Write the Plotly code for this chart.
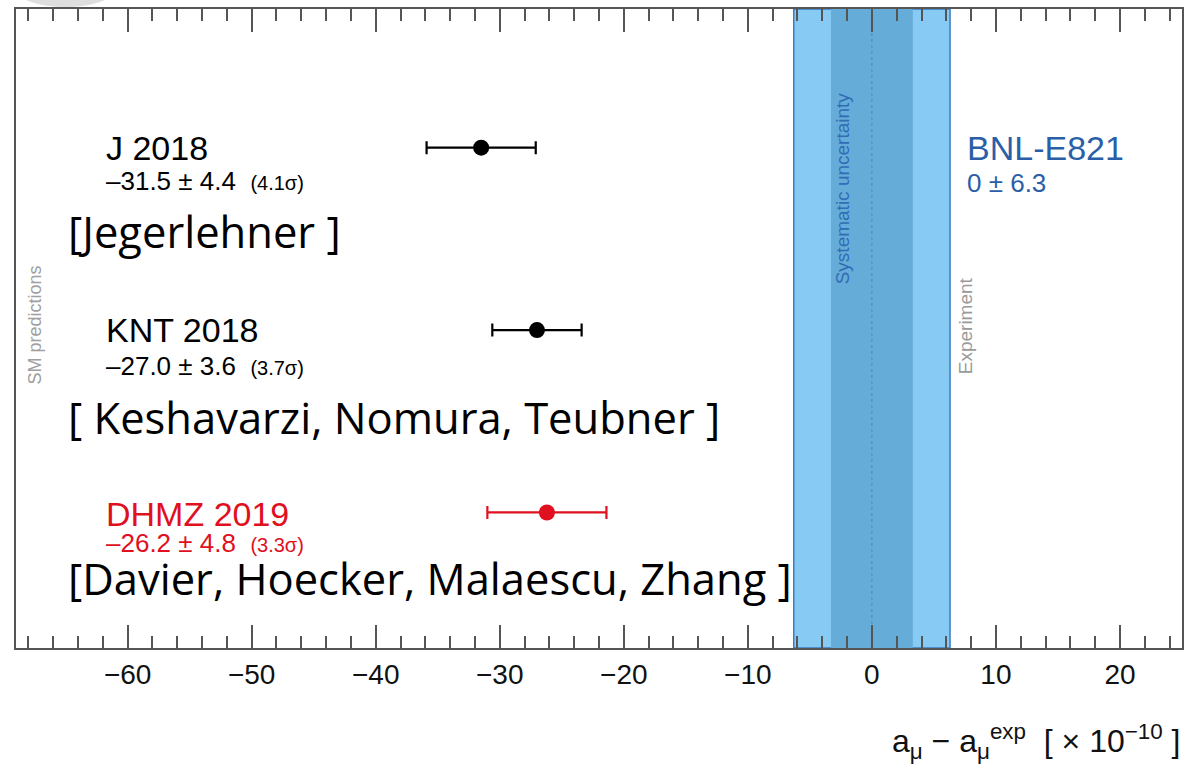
import plotly.graph_objects as go

# Standard Model predictions of a_mu relative to the BNL-E821 measurement (units of 1e-10)
labels = ["J 2018", "KNT 2018", "DHMZ 2019"]
values = [-31.5, -27.0, -26.2]
errors = [4.4, 3.6, 4.8]
sigmas = ["4.1σ", "3.7σ", "3.3σ"]
authors = ["[Jegerlehner ]", "[ Keshavarzi, Nomura, Teubner ]", "[Davier, Hoecker, Malaescu, Zhang ]"]
colors = ["#000000", "#000000", "#e0101e"]
rows = [3, 2, 1]

# Experimental reference band
exp_name = "BNL-E821"
exp_value = 0.0
exp_total = 6.3
exp_sys = 3.3

x_ticks = [-60, -50, -40, -30, -20, -10, 0, 10, 20]

HELV = "Liberation Sans, Arial, Helvetica, sans-serif"
SLIDE = "Open Sans, sans-serif"
AXIS = "#555555"

fig = go.Figure()

for lab, v, e, c, r in zip(labels, values, errors, colors, rows):
    fig.add_trace(go.Scatter(
        x=[v], y=[r], mode="markers",
        marker=dict(size=16, color=c),
        error_x=dict(type="data", array=[e], symmetric=True, color=c, thickness=2.2, width=6.5),
        showlegend=False, hoverinfo="skip", name=lab,
    ))

# bands of the measurement
fig.add_shape(type="rect", xref="x", yref="paper", x0=exp_value - exp_total, x1=exp_value + exp_total,
              y0=0, y1=1, fillcolor="#87cbf5", line=dict(color="#3d7cc2", width=1.5), layer="below")
fig.add_shape(type="rect", xref="x", yref="paper", x0=exp_value - exp_sys, x1=exp_value + exp_sys,
              y0=0, y1=1, fillcolor="#66acd8", line=dict(width=0), layer="below")
fig.add_shape(type="line", xref="x", yref="paper", x0=exp_value, x1=exp_value, y0=0, y1=1,
              line=dict(color="#4f8bc9", width=1.2, dash="dot"), layer="below")

# faint shadow at the top-left corner of the page
fig.add_shape(type="circle", xref="paper", yref="paper", x0=0.0, x1=0.085, y0=1.003, y1=1.06,
              fillcolor="rgba(190,190,190,0.5)", line=dict(width=0), layer="above")

title_shift = [0, 0, -2]
value_shift = [-33, -36, -31]
author_shift = [-84, -87, -66]

for i, r in enumerate(rows):
    c = colors[i]
    fig.add_annotation(x=-61.9, y=r, xref="x", yref="y", xanchor="left", yanchor="middle",
                       yshift=title_shift[i], showarrow=False, text=labels[i],
                       font=dict(family=HELV, size=34, color=c))
    sign = "–" if values[i] < 0 else ""
    fig.add_annotation(x=-61.9, y=r, xref="x", yref="y", xanchor="left", yanchor="middle",
                       yshift=value_shift[i], showarrow=False,
                       text=f"{sign}{abs(values[i]):.1f} ± {errors[i]:.1f}  <span style='font-size:20px'>({sigmas[i]})</span>",
                       font=dict(family=HELV, size=26, color=c))
    fig.add_annotation(x=-65.0, y=r, xref="x", yref="y", xanchor="left", yanchor="middle",
                       yshift=author_shift[i], showarrow=False, text=authors[i],
                       font=dict(family=SLIDE, size=43.5, color="#000000"))

fig.add_annotation(x=7.5, y=rows[0], xref="x", yref="y", xanchor="left", yanchor="middle",
                   yshift=0, showarrow=False, text=exp_name,
                   font=dict(family=HELV, size=34, color="#2a5fa8"))
fig.add_annotation(x=7.5, y=rows[0], xref="x", yref="y", xanchor="left", yanchor="middle",
                   yshift=-35, showarrow=False, text=f"{exp_value:.0f} ± {exp_total:.1f}",
                   font=dict(family=HELV, size=26, color="#2a5fa8"))

fig.add_annotation(x=-2.35, y=0.719, xref="x", yref="paper", xanchor="center", yanchor="middle",
                   textangle=-90, showarrow=False,
                   text="Systematic uncertainty", font=dict(family=HELV, size=19, color="#2f6db5"))
fig.add_annotation(x=7.5, y=0.505, xref="x", yref="paper", xanchor="center", yanchor="middle",
                   textangle=-90, showarrow=False,
                   text="Experiment", font=dict(family=HELV, size=19, color="#9a9a9a"))
fig.add_annotation(x=0.0165, y=0.505, xref="paper", yref="paper", xanchor="center", yanchor="middle",
                   textangle=-90, showarrow=False,
                   text="SM predictions", font=dict(family=HELV, size=18, color="#a0a0a0"))

fig.add_annotation(x=1.0, y=-0.146, xref="paper", yref="paper", xanchor="right", yanchor="middle",
                   showarrow=False,
                   text="a<sub>μ</sub> − a<sub>μ</sub><sup>exp</sup>  [ × 10<sup>−10</sup> ]",
                   font=dict(family=HELV, size=32, color="#111111"))

fig.update_xaxes(range=[-69, 25], tickvals=x_ticks, ticktext=[f"−{abs(t)}" if t < 0 else str(t) for t in x_ticks],
                 ticks="inside", ticklen=23, tickwidth=2, tickcolor=AXIS,
                 minor=dict(dtick=2, tick0=0, ticks="inside", ticklen=12, tickwidth=2, tickcolor=AXIS),
                 showline=True, linecolor=AXIS, linewidth=2, mirror="allticks",
                 showgrid=False, zeroline=False,
                 tickfont=dict(family=HELV, size=28, color="#111111"))
fig.update_yaxes(range=[0.257, 3.76], showticklabels=False, ticks="", showline=True, mirror=True,
                 linecolor=AXIS, linewidth=2, showgrid=False, zeroline=False)

fig.update_layout(width=1196, height=767, margin=dict(l=16, r=14, t=7, b=119),
                  paper_bgcolor="white", plot_bgcolor="white")

fig.write_html("out.html")
